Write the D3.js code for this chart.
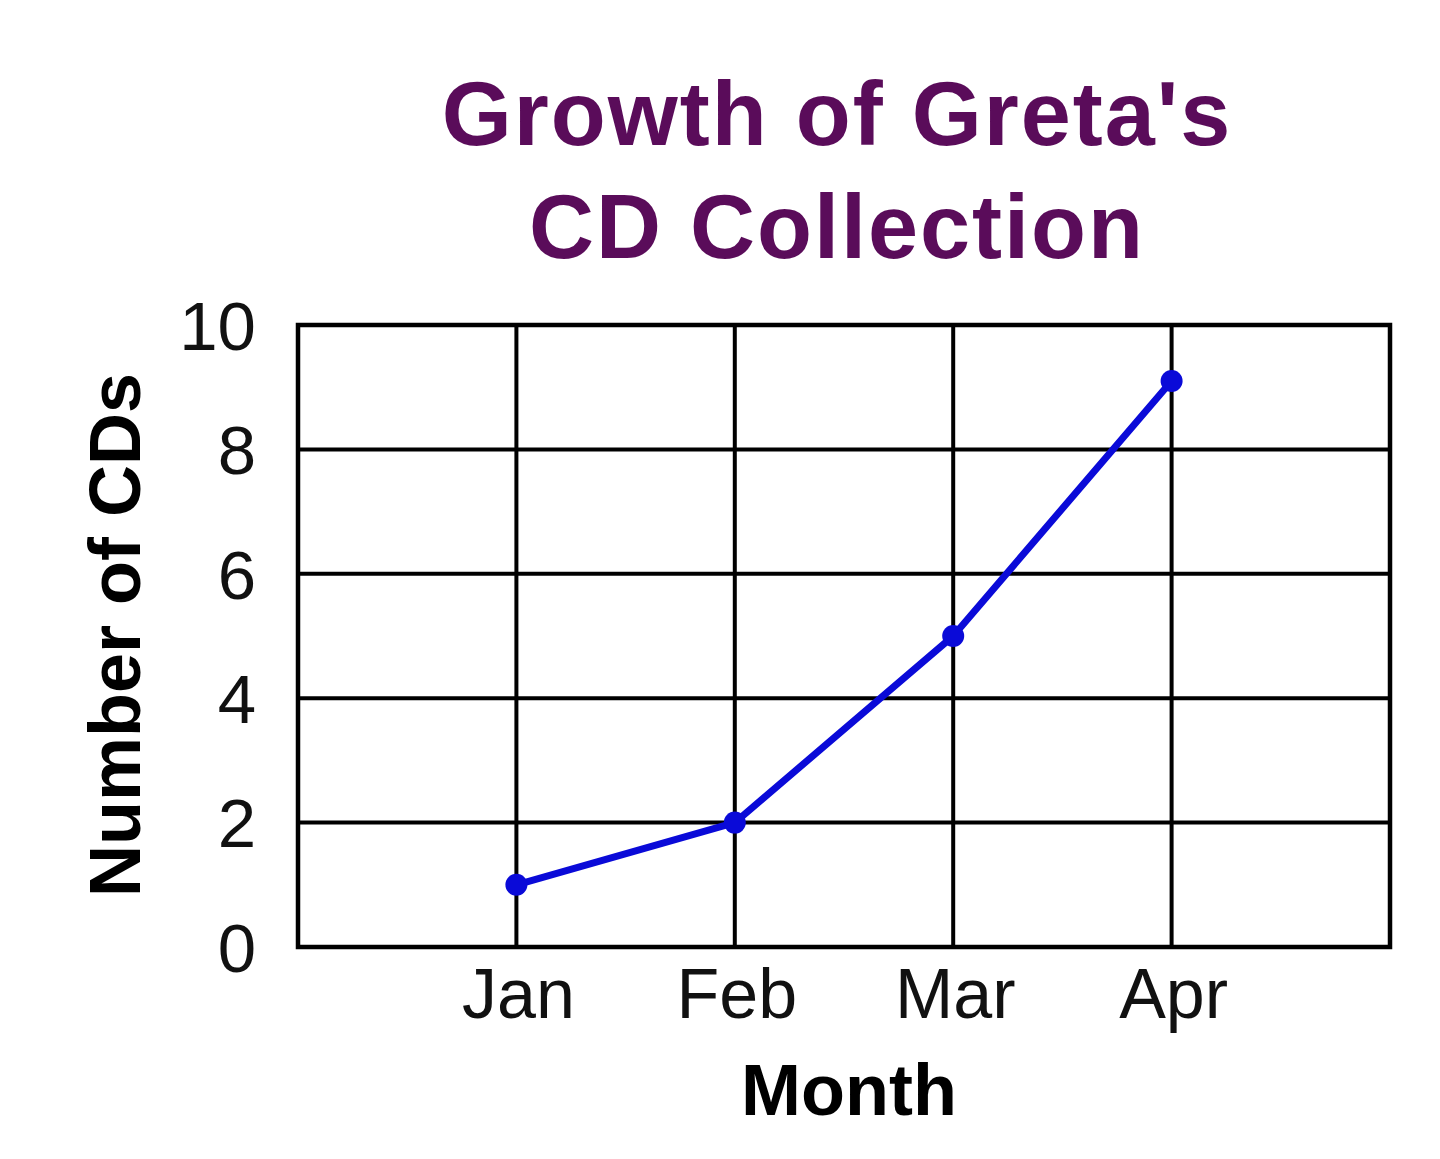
<!DOCTYPE html>
<html>
<head>
<meta charset="utf-8">
<script src="https://cdn.jsdelivr.net/npm/d3@7"></script>
<style>
  html, body { margin: 0; padding: 0; background: #fff; }
  svg { display: block; font-family: "Liberation Sans", Arial, sans-serif; }
</style>
</head>
<body>
<svg id="chart" width="1440" height="1159"></svg>
<script>
// data
const months = ["Jan", "Feb", "Mar", "Apr"];
const cds = [1, 2, 5, 9.1];
const yTicks = [0, 2, 4, 6, 8, 10];
const titleLines = ["Growth of Greta's", "CD Collection"];

const svg = d3.select("#chart");
const margin = {left: 298, right: 50, top: 325, bottom: 212};
const width = 1440, height = 1159;

// months sit on positions 1..4 of a 0..5 band
let x = d3.scaleLinear()
          .domain([0, months.length + 1])
          .range([margin.left, width - margin.right]);
let y = d3.scaleLinear()
          .domain([0, 10])
          .range([height - margin.bottom, margin.top]);

let plot = svg.append("g");

// horizontal grid
plot.selectAll("line.hgrid")
    .data(yTicks.slice(1, -1))
    .enter().append("line")
    .attr("class", "hgrid")
    .attr("x1", x(0)).attr("x2", x(months.length + 1))
    .attr("y1", d => y(d)).attr("y2", d => y(d))
    .attr("stroke", "#000").attr("stroke-width", 4);

// vertical grid at each month
plot.selectAll("line.vgrid")
    .data(months)
    .enter().append("line")
    .attr("class", "vgrid")
    .attr("x1", (d, i) => x(i + 1)).attr("x2", (d, i) => x(i + 1))
    .attr("y1", y(0)).attr("y2", y(10))
    .attr("stroke", "#000").attr("stroke-width", 4);

// frame
plot.append("rect")
    .attr("x", x(0)).attr("y", y(10))
    .attr("width", x(months.length + 1) - x(0))
    .attr("height", y(0) - y(10))
    .attr("fill", "none")
    .attr("stroke", "#000").attr("stroke-width", 4.5);

// y tick labels
svg.selectAll("text.ytick")
   .data(yTicks)
   .enter().append("text")
   .attr("class", "ytick")
   .attr("x", 256)
   .attr("y", d => y(d))
   .attr("dy", "0.36em")
   .attr("text-anchor", "end")
   .attr("font-size", 69)
   .attr("fill", "#111")
   .text(d => d);

// x tick labels
svg.selectAll("text.xtick")
   .data(months)
   .enter().append("text")
   .attr("class", "xtick")
   .attr("x", (d, i) => x(i + 1) + 2)
   .attr("y", 1018)
   .attr("text-anchor", "middle")
   .attr("font-size", 70)
   .attr("fill", "#111")
   .text(d => d);

// axis titles
svg.append("text")
   .attr("x", 849).attr("y", 1115)
   .attr("text-anchor", "middle")
   .attr("font-size", 72).attr("font-weight", "bold")
   .attr("fill", "#000")
   .text("Month");

svg.append("text")
   .attr("transform", "translate(140," + 635 + ") rotate(-90)")
   .attr("text-anchor", "middle")
   .attr("font-size", 72).attr("font-weight", "bold")
   .attr("fill", "#000")
   .text("Number of CDs");

// title
svg.selectAll("text.title")
   .data(titleLines)
   .enter().append("text")
   .attr("class", "title")
   .attr("x", 837)
   .attr("y", (d, i) => 145 + i * 113)
   .attr("text-anchor", "middle")
   .attr("font-size", 90).attr("font-weight", "bold")
   .attr("letter-spacing", 2)
   .attr("fill", "#5a0c5a")
   .text(d => d);

// series line and points
let line = d3.line()
             .x((d, i) => x(i + 1))
             .y(d => y(d));

svg.append("path")
   .datum(cds)
   .attr("d", line)
   .attr("fill", "none")
   .attr("stroke", "#0a0ad8")
   .attr("stroke-width", 7)
   .attr("stroke-linejoin", "round");

svg.selectAll("circle.pt")
   .data(cds)
   .enter().append("circle")
   .attr("class", "pt")
   .attr("cx", (d, i) => x(i + 1))
   .attr("cy", d => y(d))
   .attr("r", 11)
   .attr("fill", "#0a0ad8");
</script>
</body>
</html>
